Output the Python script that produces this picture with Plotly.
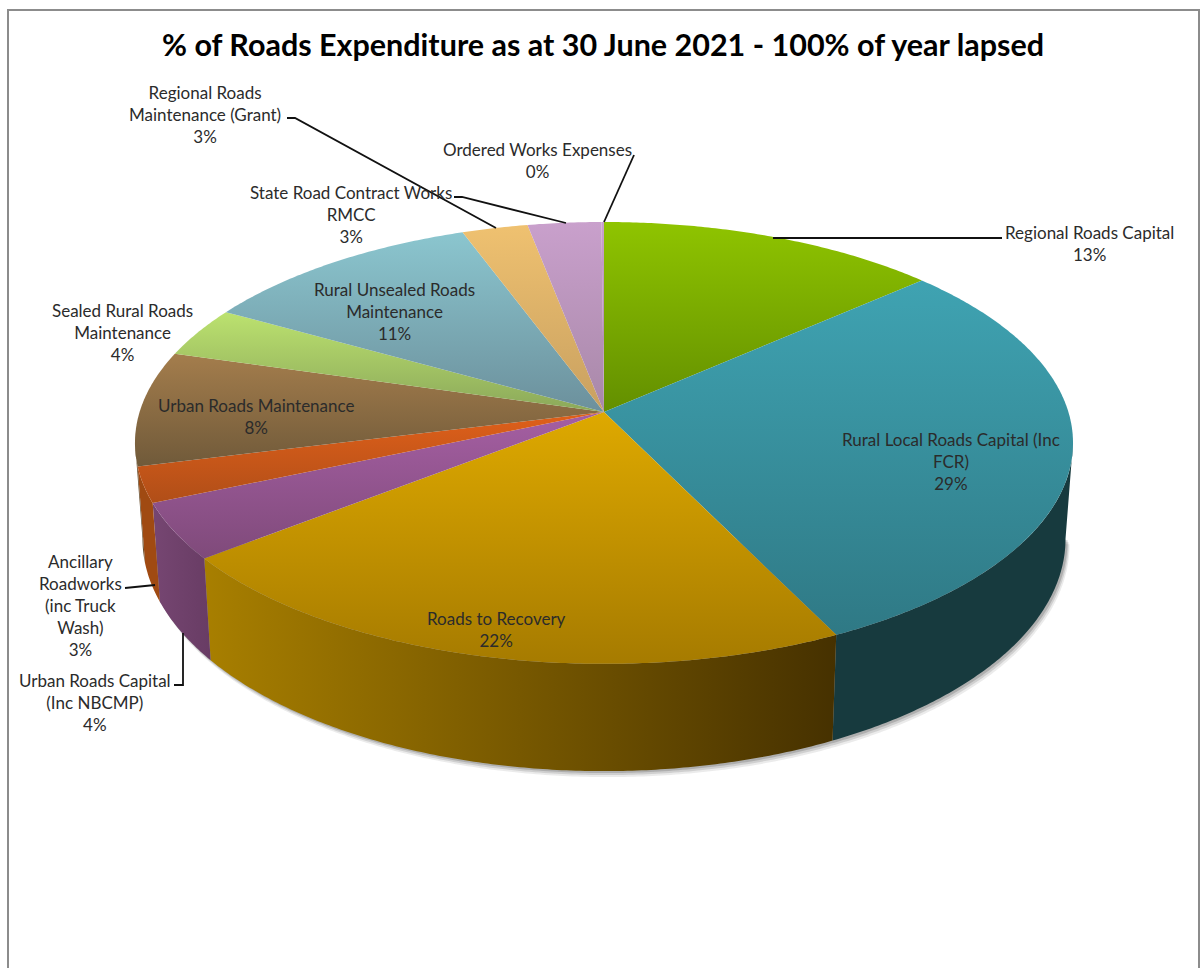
import numpy as np
import plotly.graph_objects as go

# Slices run clockwise from 12 o'clock, values in % of total
names = [
    "Regional Roads Capital",
    "Rural Local Roads Capital (Inc<br>FCR)",
    "Roads to Recovery",
    "Urban Roads Capital<br>(Inc NBCMP)",
    "Ancillary<br>Roadworks<br>(inc Truck<br>Wash)",
    "Urban Roads Maintenance",
    "Sealed Rural Roads<br>Maintenance",
    "Rural Unsealed Roads<br>Maintenance",
    "State Road Contract Works<br>RMCC",
    "Regional Roads<br>Maintenance (Grant)",
    "Ordered Works Expenses",
]
values = [13.45, 29.35, 21.6, 4.1, 2.6, 8.4, 3.7, 11.2, 2.6, 2.9, 0.1]

# top surface colours (upper, lower) and side wall colours (left, right)
top_hi = ["#8fc400", "#3fa3b2", "#dea900", "#a55fa3", "#e0601a", "#a47d4c",
          "#bce26f", "#8bc6cf", "#efc170", "#c9a0cc", "#c9a0cc"]
top_lo = ["#638f00", "#2f7985", "#a67b00", "#7f4a7a", "#b04e18", "#705a3a",
          "#8ba85a", "#6c909c", "#c8a060", "#a888a8", "#a888a8"]
wall_l = ["#46610a", "#173a3e", "#a87f00", "#764672", "#a04a12", "#6a5030",
          "#6f8a3c", "#50707a", "#a08050", "#806880", "#806880"]
wall_r = ["#46610a", "#173a3e", "#463100", "#683c64", "#a04a12", "#6a5030",
          "#6f8a3c", "#50707a", "#a08050", "#806880", "#806880"]

label_x = [1089, 951, 496, 95, 80, 256, 122, 394, 351, 205, 537]
label_y = [243, 461, 629, 702, 605, 416, 332, 311, 214, 114, 160]

leaders = [
    ([1002, 940, 773], [238, 238, 238]),
    ([125, 155], [588, 585]),
    ([174, 183, 183], [685, 685, 633]),
    ([287, 295, 496], [118, 118, 228]),
    ([454, 462, 566], [197, 197, 223]),
    ([634, 604], [155, 222]),
]

TITLE = "% of Roads Expenditure as at 30 June 2021 - 100% of year lapsed"
FONT = "Lato"

# perspective of the pie disc, in picture pixels
CX, PERSP = 604, 0.14
TOP_A, TOP_B, TOP_Y = 464.4, 216.6, 412
BASE_A, BASE_B, BASE_Y = 457, 228, 506
VISIBLE = (np.radians(98), np.radians(262))


def rim(theta, a, b, yc):
    u, v = np.sin(theta), np.cos(theta)
    w = 1 + PERSP * v
    return CX + a * u / w, yc - b * v / w


def arc(t0, t1):
    n = max(int(np.degrees(t1 - t0)) * 2, 2)
    return np.linspace(t0, t1, n)


edges = np.cumsum([0] + values) / sum(values) * 2 * np.pi

fig = go.Figure()

# soft shadow under the base
for dx, dy, alpha in [(4, 6, 0.10), (3, 4, 0.16), (2, 2, 0.22)]:
    sx, sy = rim(arc(*VISIBLE), BASE_A, BASE_B, BASE_Y)
    fig.add_trace(go.Scatter(x=sx + dx, y=sy + dy, mode="none", fill="toself",
                             fillcolor=f"rgba(60,60,60,{alpha})", hoverinfo="skip"))

# side walls, only the part that faces the viewer
for i in range(len(values)):
    t0, t1 = max(edges[i], VISIBLE[0]), min(edges[i + 1], VISIBLE[1])
    if t1 <= t0:
        continue
    th = arc(t0, t1)
    xt, yt = rim(th, TOP_A, TOP_B, TOP_Y)
    xb, yb = rim(th[::-1], BASE_A, BASE_B, BASE_Y)
    fig.add_trace(go.Scatter(
        x=np.r_[xt, xb], y=np.r_[yt, yb], mode="none", fill="toself",
        fillgradient=dict(type="horizontal", colorscale=[[0, wall_l[i]], [1, wall_r[i]]]),
        hoverinfo="skip",
    ))

# top surface wedges
for i, name in enumerate(names):
    xt, yt = rim(arc(edges[i], edges[i + 1]), TOP_A, TOP_B, TOP_Y)
    fig.add_trace(go.Scatter(
        x=np.r_[CX, xt, CX], y=np.r_[TOP_Y, yt, TOP_Y], mode="none", fill="toself",
        # colorscale runs bottom to top on screen
        fillgradient=dict(type="vertical", colorscale=[[0, top_lo[i]], [1, top_hi[i]]]),
        name=name.replace("<br>", " "), hoverinfo="name",
    ))

for lx, ly in leaders:
    fig.add_trace(go.Scatter(x=lx, y=ly, mode="lines", hoverinfo="skip",
                             line=dict(color="#111111", width=1.8)))

for name, val, x, y in zip(names, values, label_x, label_y):
    fig.add_annotation(x=x, y=y, text=f"{name}<br>{round(val)}%", showarrow=False,
                       font=dict(family=FONT, size=17, color="#2b2b2b"), align="center",
                       xanchor="center", yanchor="middle")

fig.add_annotation(x=603, y=44, text=f"<b>{TITLE}</b>", showarrow=False,
                   font=dict(family=FONT, size=30.5, color="#000000"),
                   xanchor="center", yanchor="middle")

# chart frame, open at the bottom
fig.add_trace(go.Scatter(x=[8, 8, 1199, 1199], y=[968, 10, 10, 968], mode="lines",
                         hoverinfo="skip", line=dict(color="#8c8c8c", width=2)))

fig.update_xaxes(range=[0, 1200], visible=False, fixedrange=True)
fig.update_yaxes(range=[968, 0], visible=False, fixedrange=True)
fig.update_layout(width=1200, height=968, margin=dict(l=0, r=0, t=0, b=0),
                  showlegend=False, plot_bgcolor="white", paper_bgcolor="white")

# drop the browser's default body margin so the figure sits at the page corner
fig.write_html("out.html", config={"displayModeBar": False},
               post_script="document.body.style.margin='0';document.body.style.overflow='hidden';")
